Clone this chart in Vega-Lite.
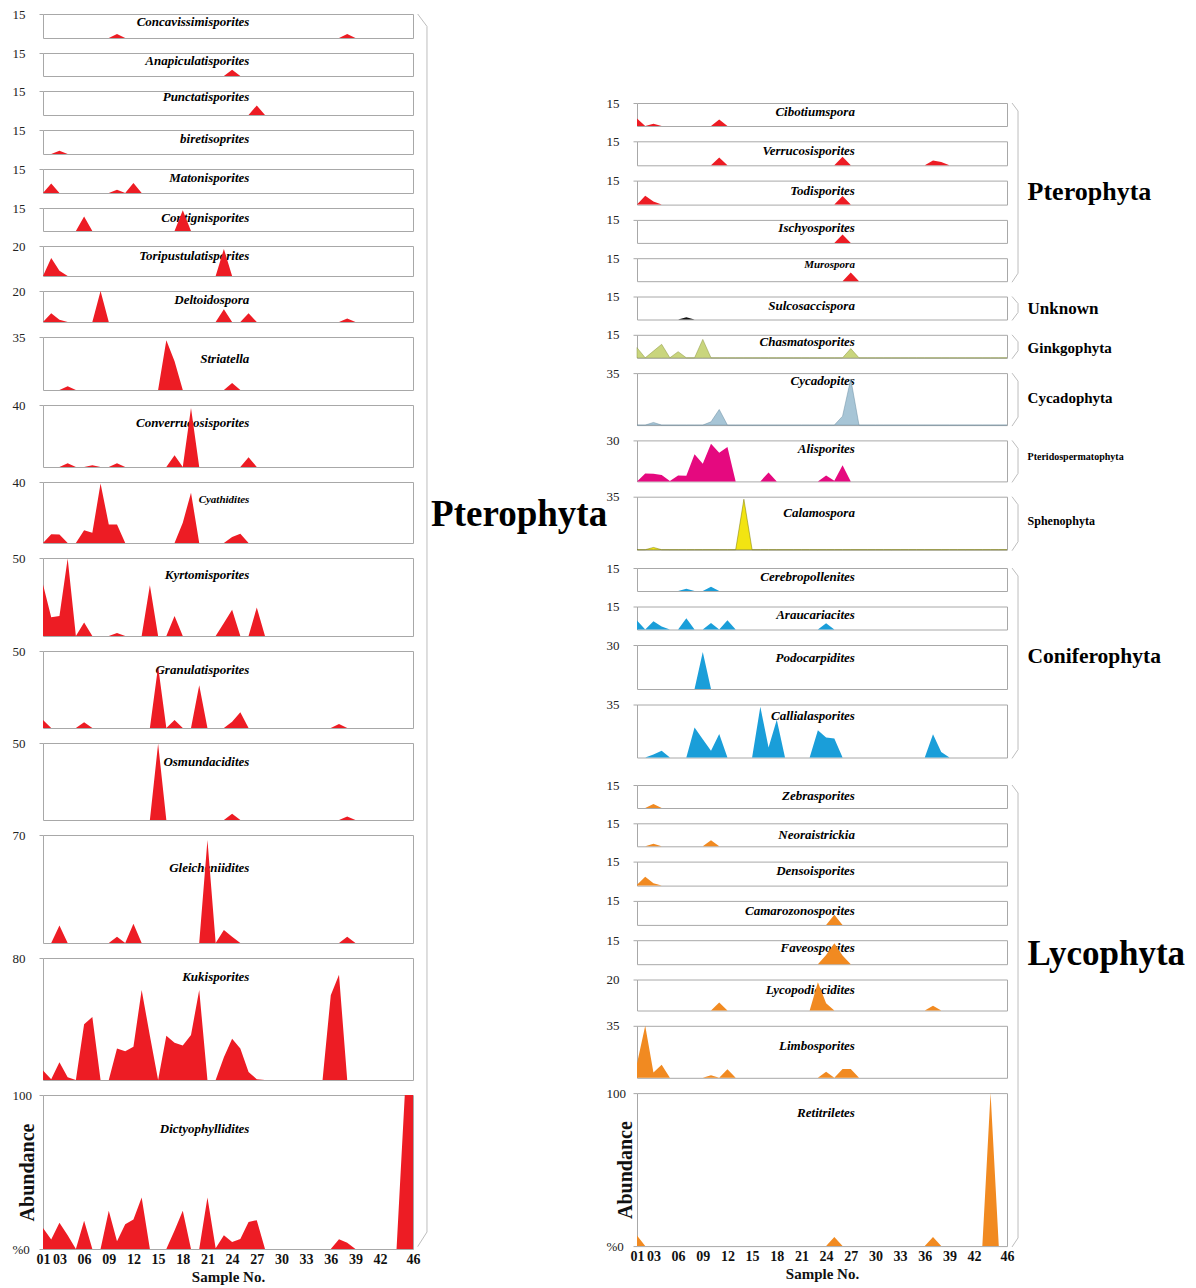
{
"$schema": "https://vega.github.io/schema/vega-lite/v6.json",
"background": "white",
"padding": {"left": 11, "top": 7, "right": 2, "bottom": 2},
"datasets": {"p": [
{"t":"Concavissimisporites","s":10,"v":2.5},{"t":"Concavissimisporites","s":38,"v":2.5},
{"t":"Anapiculatisporites","s":24,"v":4},
{"t":"Punctatisporites","s":27,"v":6},
{"t":"biretisoprites","s":3,"v":2},
{"t":"Matonisporites","s":2,"v":6},{"t":"Matonisporites","s":10,"v":2},{"t":"Matonisporites","s":12,"v":6.3},
{"t":"Contignisporites","s":6,"v":9.5},{"t":"Contignisporites","s":18,"v":13.5},
{"t":"Toripustulatisporites","s":2,"v":12},{"t":"Toripustulatisporites","s":3,"v":3.5},{"t":"Toripustulatisporites","s":23,"v":18},
{"t":"Deltoidospora","s":2,"v":5.7},{"t":"Deltoidospora","s":3,"v":1.5},{"t":"Deltoidospora","s":8,"v":20},{"t":"Deltoidospora","s":23,"v":8.3},{"t":"Deltoidospora","s":26,"v":5.7},{"t":"Deltoidospora","s":38,"v":2.2},
{"t":"Striatella","s":4,"v":2.4},{"t":"Striatella","s":16,"v":32.8},{"t":"Striatella","s":17,"v":19},{"t":"Striatella","s":24,"v":4.6},
{"t":"Converrucosisporites","s":4,"v":2.4},{"t":"Converrucosisporites","s":7,"v":1.2},{"t":"Converrucosisporites","s":10,"v":2.4},{"t":"Converrucosisporites","s":17,"v":7.6},{"t":"Converrucosisporites","s":19,"v":38},{"t":"Converrucosisporites","s":26,"v":6.3},
{"t":"Cyathidites","s":2,"v":5.8},{"t":"Cyathidites","s":3,"v":5.6},{"t":"Cyathidites","s":6,"v":8.4},{"t":"Cyathidites","s":7,"v":6.7},{"t":"Cyathidites","s":8,"v":39},{"t":"Cyathidites","s":9,"v":12.2},{"t":"Cyathidites","s":10,"v":12.2},{"t":"Cyathidites","s":18,"v":13.3},{"t":"Cyathidites","s":19,"v":33},{"t":"Cyathidites","s":24,"v":4},{"t":"Cyathidites","s":25,"v":6},
{"t":"Kyrtomisporites","s":1,"v":33},{"t":"Kyrtomisporites","s":2,"v":12},{"t":"Kyrtomisporites","s":3,"v":12.9},{"t":"Kyrtomisporites","s":4,"v":49.6},{"t":"Kyrtomisporites","s":6,"v":8.7},{"t":"Kyrtomisporites","s":10,"v":2},{"t":"Kyrtomisporites","s":14,"v":32.5},{"t":"Kyrtomisporites","s":17,"v":12.9},{"t":"Kyrtomisporites","s":23,"v":8.4},{"t":"Kyrtomisporites","s":24,"v":16.8},{"t":"Kyrtomisporites","s":27,"v":18.3},
{"t":"Granulatisporites","s":1,"v":5.2},{"t":"Granulatisporites","s":6,"v":3.7},{"t":"Granulatisporites","s":15,"v":40},{"t":"Granulatisporites","s":17,"v":5.2},{"t":"Granulatisporites","s":20,"v":27.7},{"t":"Granulatisporites","s":24,"v":4},{"t":"Granulatisporites","s":25,"v":10.3},{"t":"Granulatisporites","s":37,"v":2.6},
{"t":"Osmundacidites","s":15,"v":49.5},{"t":"Osmundacidites","s":24,"v":4},{"t":"Osmundacidites","s":38,"v":2.2},
{"t":"Gleicheniidites","s":3,"v":11.3},{"t":"Gleicheniidites","s":10,"v":4.1},{"t":"Gleicheniidites","s":12,"v":12.4},{"t":"Gleicheniidites","s":21,"v":66.7},{"t":"Gleicheniidites","s":23,"v":8.5},{"t":"Gleicheniidites","s":24,"v":4},{"t":"Gleicheniidites","s":38,"v":4.1},
{"t":"Kukisporites","s":1,"v":6.2},{"t":"Kukisporites","s":2,"v":0.5},{"t":"Kukisporites","s":3,"v":11.6},{"t":"Kukisporites","s":4,"v":1.8},{"t":"Kukisporites","s":6,"v":36.5},{"t":"Kukisporites","s":7,"v":41.3},{"t":"Kukisporites","s":10,"v":20.7},{"t":"Kukisporites","s":11,"v":18.9},{"t":"Kukisporites","s":12,"v":21.8},{"t":"Kukisporites","s":13,"v":59},{"t":"Kukisporites","s":14,"v":29},{"t":"Kukisporites","s":16,"v":29},{"t":"Kukisporites","s":17,"v":24.4},{"t":"Kukisporites","s":18,"v":22.6},{"t":"Kukisporites","s":19,"v":29.5},{"t":"Kukisporites","s":20,"v":59},{"t":"Kukisporites","s":23,"v":15},{"t":"Kukisporites","s":24,"v":27},{"t":"Kukisporites","s":25,"v":20.7},{"t":"Kukisporites","s":26,"v":5.3},{"t":"Kukisporites","s":27,"v":0.5},{"t":"Kukisporites","s":36,"v":55.6},{"t":"Kukisporites","s":37,"v":69},
{"t":"Dictyophyllidites","s":1,"v":13.7},{"t":"Dictyophyllidites","s":2,"v":6.1},{"t":"Dictyophyllidites","s":3,"v":17},{"t":"Dictyophyllidites","s":4,"v":8.9},{"t":"Dictyophyllidites","s":6,"v":18.3},{"t":"Dictyophyllidites","s":9,"v":24.8},{"t":"Dictyophyllidites","s":10,"v":5},{"t":"Dictyophyllidites","s":11,"v":16.1},{"t":"Dictyophyllidites","s":12,"v":19.2},{"t":"Dictyophyllidites","s":13,"v":33.5},{"t":"Dictyophyllidites","s":17,"v":12},{"t":"Dictyophyllidites","s":18,"v":24.8},{"t":"Dictyophyllidites","s":21,"v":33.5},{"t":"Dictyophyllidites","s":22,"v":0.5},{"t":"Dictyophyllidites","s":23,"v":9},{"t":"Dictyophyllidites","s":24,"v":4.6},{"t":"Dictyophyllidites","s":25,"v":6.5},{"t":"Dictyophyllidites","s":26,"v":17.6},{"t":"Dictyophyllidites","s":27,"v":18.7},{"t":"Dictyophyllidites","s":37,"v":6.3},{"t":"Dictyophyllidites","s":38,"v":4.1},{"t":"Dictyophyllidites","s":45,"v":100},{"t":"Dictyophyllidites","s":46,"v":100},
{"t":"Cibotiumspora","s":1,"v":4.9},{"t":"Cibotiumspora","s":3,"v":1.5},{"t":"Cibotiumspora","s":11,"v":4.3},
{"t":"Verrucosisporites","s":11,"v":4.9},{"t":"Verrucosisporites","s":26,"v":5.3},{"t":"Verrucosisporites","s":37,"v":3},{"t":"Verrucosisporites","s":38,"v":2},
{"t":"Todisporites","s":2,"v":5.5},{"t":"Todisporites","s":3,"v":2},{"t":"Todisporites","s":26,"v":5.3},
{"t":"Ischyosporites","s":26,"v":5.5},
{"t":"Murospora","s":27,"v":5.6},
{"t":"Sulcosaccispora","s":7,"v":1.5},
{"t":"Chasmatosporites","s":1,"v":6.6},{"t":"Chasmatosporites","s":3,"v":4.4},{"t":"Chasmatosporites","s":4,"v":8.8},{"t":"Chasmatosporites","s":6,"v":4},{"t":"Chasmatosporites","s":9,"v":12},{"t":"Chasmatosporites","s":27,"v":6},
{"t":"Cycadopites","s":3,"v":1.8},{"t":"Cycadopites","s":10,"v":2.2},{"t":"Cycadopites","s":11,"v":10.5},{"t":"Cycadopites","s":26,"v":6},{"t":"Cycadopites","s":27,"v":31},
{"t":"Alisporites","s":2,"v":5.8},{"t":"Alisporites","s":3,"v":5.6},{"t":"Alisporites","s":4,"v":4.6},{"t":"Alisporites","s":5,"v":0.3},{"t":"Alisporites","s":6,"v":4.4},{"t":"Alisporites","s":7,"v":4.1},{"t":"Alisporites","s":8,"v":19.9},{"t":"Alisporites","s":9,"v":13},{"t":"Alisporites","s":10,"v":27.6},{"t":"Alisporites","s":11,"v":21},{"t":"Alisporites","s":12,"v":25.2},{"t":"Alisporites","s":17,"v":6.5},{"t":"Alisporites","s":24,"v":4.4},{"t":"Alisporites","s":25,"v":0.5},{"t":"Alisporites","s":26,"v":11.9},
{"t":"Calamospora","s":3,"v":1.5},{"t":"Calamospora","s":14,"v":33.3},
{"t":"Cerebropollenites","s":7,"v":1.5},{"t":"Cerebropollenites","s":10,"v":2.8},
{"t":"Araucariacites","s":1,"v":5.8},{"t":"Araucariacites","s":3,"v":5.4},{"t":"Araucariacites","s":4,"v":2},{"t":"Araucariacites","s":7,"v":7.3},{"t":"Araucariacites","s":10,"v":4.3},{"t":"Araucariacites","s":12,"v":6},{"t":"Araucariacites","s":24,"v":4},
{"t":"Podocarpidites","s":9,"v":25.2},
{"t":"Callialasporites","s":3,"v":2},{"t":"Callialasporites","s":4,"v":4.4},{"t":"Callialasporites","s":8,"v":19.8},{"t":"Callialasporites","s":9,"v":12},{"t":"Callialasporites","s":10,"v":4.4},{"t":"Callialasporites","s":11,"v":15.6},{"t":"Callialasporites","s":16,"v":33.5},{"t":"Callialasporites","s":17,"v":6.6},{"t":"Callialasporites","s":18,"v":25},{"t":"Callialasporites","s":23,"v":18},{"t":"Callialasporites","s":24,"v":13.2},{"t":"Callialasporites","s":25,"v":12.5},{"t":"Callialasporites","s":37,"v":15.4},{"t":"Callialasporites","s":38,"v":3.7},
{"t":"Zebrasporites","s":3,"v":2.6},
{"t":"Neoraistrickia","s":3,"v":1.7},{"t":"Neoraistrickia","s":10,"v":4},
{"t":"Densoisporites","s":1,"v":0.5},{"t":"Densoisporites","s":2,"v":5.5},{"t":"Densoisporites","s":3,"v":1.5},
{"t":"Camarozonosporites","s":25,"v":6.3},
{"t":"Faveosporites","s":24,"v":5.7},{"t":"Faveosporites","s":25,"v":13.1},{"t":"Faveosporites","s":26,"v":5.5},
{"t":"Lycopodiacidites","s":11,"v":5.2},{"t":"Lycopodiacidites","s":23,"v":18.3},{"t":"Lycopodiacidites","s":24,"v":4.6},{"t":"Lycopodiacidites","s":37,"v":3},
{"t":"Limbosporites","s":1,"v":9.6},{"t":"Limbosporites","s":2,"v":35},{"t":"Limbosporites","s":3,"v":3.6},{"t":"Limbosporites","s":4,"v":8.7},{"t":"Limbosporites","s":10,"v":1.8},{"t":"Limbosporites","s":12,"v":5.8},{"t":"Limbosporites","s":24,"v":4},{"t":"Limbosporites","s":26,"v":6},{"t":"Limbosporites","s":27,"v":6},
{"t":"Retitriletes","s":1,"v":7},{"t":"Retitriletes","s":25,"v":6},{"t":"Retitriletes","s":37,"v":6},{"t":"Retitriletes","s":44,"v":100}
]},
"data": {"name": "p"},
"transform": [{"impute": "v", "key": "s", "keyvals": {"start": 1, "stop": 47}, "groupby": ["t"], "value": 0}],
"spacing": 594,
"bounds": "flush",
"hconcat": [
{"spacing": 15, "bounds": "flush", "vconcat": [
{"width":370,"height":24,"transform":[{"filter":"datum.t==='Concavissimisporites'"}],"layer":[
 {"mark":{"type":"area","color":"#ED1C24"},"encoding":{"x":{"field":"s","type":"quantitative","scale":{"domain":[1,46]},"axis":null},"y":{"field":"v","type":"quantitative","scale":{"domain":[0,15],"nice":false},"axis":{"values":[15],"title":null}}}},
 {"data":{"values":[{"n":"Concavissimisporites"}]},"mark":{"type":"text","style":"ttl","dy":7.5},"encoding":{"text":{"field":"n"},"x":{"datum":26.1,"type":"quantitative","scale":{"domain":[1,46]},"axis":null},"y":{"datum":15,"type":"quantitative","scale":{"domain":[0,15],"nice":false},"axis":{"values":[15],"title":null}}}},
 {"data":{"values":[{}]},"mark":{"type":"rule","color":"#bdbdbd","strokeWidth":1},"encoding":{"x":{"datum":46.57,"type":"quantitative","scale":{"domain":[1,46]},"axis":null},"x2":{"datum":47.7},"y":{"datum":15,"type":"quantitative","scale":{"domain":[0,15],"nice":false},"axis":{"values":[15],"title":null}},"y2":{"datum":7.25}}},
 {"data":{"values":[{}]},"mark":{"type":"rule","color":"#bdbdbd","strokeWidth":1},"encoding":{"x":{"datum":47.7,"type":"quantitative","scale":{"domain":[1,46]},"axis":null},"y":{"datum":7.25,"type":"quantitative","scale":{"domain":[0,15],"nice":false},"axis":{"values":[15],"title":null}},"y2":{"datum":-746.25}}},
 {"data":{"values":[{}]},"mark":{"type":"rule","color":"#bdbdbd","strokeWidth":1},"encoding":{"x":{"datum":47.7,"type":"quantitative","scale":{"domain":[1,46]},"axis":null},"x2":{"datum":46.57},"y":{"datum":-746.25,"type":"quantitative","scale":{"domain":[0,15],"nice":false},"axis":{"values":[15],"title":null}},"y2":{"datum":-755.4}}}]},
{"width":370,"height":23,"transform":[{"filter":"datum.t==='Anapiculatisporites'"}],"layer":[
 {"mark":{"type":"area","color":"#ED1C24"},"encoding":{"x":{"field":"s","type":"quantitative","scale":{"domain":[1,46]},"axis":null},"y":{"field":"v","type":"quantitative","scale":{"domain":[0,15],"nice":false},"axis":{"values":[15],"title":null}}}},
 {"data":{"values":[{"n":"Anapiculatisporites"}]},"mark":{"type":"text","style":"ttl","dy":8},"encoding":{"text":{"field":"n"},"x":{"datum":26.1,"type":"quantitative","scale":{"domain":[1,46]},"axis":null},"y":{"datum":15,"type":"quantitative","scale":{"domain":[0,15],"nice":false},"axis":{"values":[15],"title":null}}}}]},
{"width":370,"height":24,"transform":[{"filter":"datum.t==='Punctatisporites'"}],"layer":[
 {"mark":{"type":"area","color":"#ED1C24"},"encoding":{"x":{"field":"s","type":"quantitative","scale":{"domain":[1,46]},"axis":null},"y":{"field":"v","type":"quantitative","scale":{"domain":[0,15],"nice":false},"axis":{"values":[15],"title":null}}}},
 {"data":{"values":[{"n":"Punctatisporites"}]},"mark":{"type":"text","style":"ttl","dy":6},"encoding":{"text":{"field":"n"},"x":{"datum":26.1,"type":"quantitative","scale":{"domain":[1,46]},"axis":null},"y":{"datum":15,"type":"quantitative","scale":{"domain":[0,15],"nice":false},"axis":{"values":[15],"title":null}}}}]},
{"width":370,"height":24,"transform":[{"filter":"datum.t==='biretisoprites'"}],"layer":[
 {"mark":{"type":"area","color":"#ED1C24"},"encoding":{"x":{"field":"s","type":"quantitative","scale":{"domain":[1,46]},"axis":null},"y":{"field":"v","type":"quantitative","scale":{"domain":[0,15],"nice":false},"axis":{"values":[15],"title":null}}}},
 {"data":{"values":[{"n":"biretisoprites"}]},"mark":{"type":"text","style":"ttl","dy":8.5},"encoding":{"text":{"field":"n"},"x":{"datum":26.1,"type":"quantitative","scale":{"domain":[1,46]},"axis":null},"y":{"datum":15,"type":"quantitative","scale":{"domain":[0,15],"nice":false},"axis":{"values":[15],"title":null}}}}]},
{"width":370,"height":24,"transform":[{"filter":"datum.t==='Matonisporites'"}],"layer":[
 {"mark":{"type":"area","color":"#ED1C24"},"encoding":{"x":{"field":"s","type":"quantitative","scale":{"domain":[1,46]},"axis":null},"y":{"field":"v","type":"quantitative","scale":{"domain":[0,15],"nice":false},"axis":{"values":[15],"title":null}}}},
 {"data":{"values":[{"n":"Matonisporites"}]},"mark":{"type":"text","style":"ttl","dy":9},"encoding":{"text":{"field":"n"},"x":{"datum":26.1,"type":"quantitative","scale":{"domain":[1,46]},"axis":null},"y":{"datum":15,"type":"quantitative","scale":{"domain":[0,15],"nice":false},"axis":{"values":[15],"title":null}}}}]},
{"width":370,"height":23,"transform":[{"filter":"datum.t==='Contignisporites'"}],"layer":[
 {"data":{"values":[{"n":"Contignisporites"}]},"mark":{"type":"text","style":"ttl","dy":9.5},"encoding":{"text":{"field":"n"},"x":{"datum":26.1,"type":"quantitative","scale":{"domain":[1,46]},"axis":null},"y":{"datum":15,"type":"quantitative","scale":{"domain":[0,15],"nice":false},"axis":{"values":[15],"title":null}}}},
 {"mark":{"type":"area","color":"#ED1C24"},"encoding":{"x":{"field":"s","type":"quantitative","scale":{"domain":[1,46]},"axis":null},"y":{"field":"v","type":"quantitative","scale":{"domain":[0,15],"nice":false},"axis":{"values":[15],"title":null}}}}]},
{"width":370,"height":30,"transform":[{"filter":"datum.t==='Toripustulatisporites'"}],"layer":[
 {"data":{"values":[{"n":"Toripustulatisporites"}]},"mark":{"type":"text","style":"ttl","dy":9.5},"encoding":{"text":{"field":"n"},"x":{"datum":26.1,"type":"quantitative","scale":{"domain":[1,46]},"axis":null},"y":{"datum":20,"type":"quantitative","scale":{"domain":[0,20],"nice":false},"axis":{"values":[20],"title":null}}}},
 {"mark":{"type":"area","color":"#ED1C24"},"encoding":{"x":{"field":"s","type":"quantitative","scale":{"domain":[1,46]},"axis":null},"y":{"field":"v","type":"quantitative","scale":{"domain":[0,20],"nice":false},"axis":{"values":[20],"title":null}}}}]},
{"width":370,"height":31,"transform":[{"filter":"datum.t==='Deltoidospora'"}],"layer":[
 {"mark":{"type":"area","color":"#ED1C24"},"encoding":{"x":{"field":"s","type":"quantitative","scale":{"domain":[1,46]},"axis":null},"y":{"field":"v","type":"quantitative","scale":{"domain":[0,20],"nice":false},"axis":{"values":[20],"title":null}}}},
 {"data":{"values":[{"n":"Deltoidospora"}]},"mark":{"type":"text","style":"ttl","dy":9.3},"encoding":{"text":{"field":"n"},"x":{"datum":26.1,"type":"quantitative","scale":{"domain":[1,46]},"axis":null},"y":{"datum":20,"type":"quantitative","scale":{"domain":[0,20],"nice":false},"axis":{"values":[20],"title":null}}}}]},
{"width":370,"height":53,"transform":[{"filter":"datum.t==='Striatella'"}],"layer":[
 {"mark":{"type":"area","color":"#ED1C24"},"encoding":{"x":{"field":"s","type":"quantitative","scale":{"domain":[1,46]},"axis":null},"y":{"field":"v","type":"quantitative","scale":{"domain":[0,35],"nice":false},"axis":{"values":[35],"title":null}}}},
 {"data":{"values":[{"n":"Striatella"}]},"mark":{"type":"text","style":"ttl","dy":21.5},"encoding":{"text":{"field":"n"},"x":{"datum":26.1,"type":"quantitative","scale":{"domain":[1,46]},"axis":null},"y":{"datum":35,"type":"quantitative","scale":{"domain":[0,35],"nice":false},"axis":{"values":[35],"title":null}}}}]},
{"width":370,"height":62,"transform":[{"filter":"datum.t==='Converrucosisporites'"}],"layer":[
 {"data":{"values":[{"n":"Converrucosisporites"}]},"mark":{"type":"text","style":"ttl","dy":18.3},"encoding":{"text":{"field":"n"},"x":{"datum":26.1,"type":"quantitative","scale":{"domain":[1,46]},"axis":null},"y":{"datum":40,"type":"quantitative","scale":{"domain":[0,40],"nice":false},"axis":{"values":[40],"title":null}}}},
 {"mark":{"type":"area","color":"#ED1C24"},"encoding":{"x":{"field":"s","type":"quantitative","scale":{"domain":[1,46]},"axis":null},"y":{"field":"v","type":"quantitative","scale":{"domain":[0,40],"nice":false},"axis":{"values":[40],"title":null}}}}]},
{"width":370,"height":61,"transform":[{"filter":"datum.t==='Cyathidites'"}],"layer":[
 {"mark":{"type":"area","color":"#ED1C24"},"encoding":{"x":{"field":"s","type":"quantitative","scale":{"domain":[1,46]},"axis":null},"y":{"field":"v","type":"quantitative","scale":{"domain":[0,40],"nice":false},"axis":{"values":[40],"title":null}}}},
 {"data":{"values":[{"n":"Cyathidites"}]},"mark":{"type":"text","style":"ttl","dy":18.3,"fontSize":11},"encoding":{"text":{"field":"n"},"x":{"datum":26.1,"type":"quantitative","scale":{"domain":[1,46]},"axis":null},"y":{"datum":40,"type":"quantitative","scale":{"domain":[0,40],"nice":false},"axis":{"values":[40],"title":null}}}},
 {"data":{"values":[{"g":"Pterophyta"}]},"mark":{"type":"text","style":"grp","fontSize":37,"dy":33},"encoding":{"text":{"field":"g"},"x":{"datum":48.2,"type":"quantitative","scale":{"domain":[1,46]},"axis":null},"y":{"datum":40,"type":"quantitative","scale":{"domain":[0,40],"nice":false},"axis":{"values":[40],"title":null}}}}]},
{"width":370,"height":78,"transform":[{"filter":"datum.t==='Kyrtomisporites'"}],"layer":[
 {"mark":{"type":"area","color":"#ED1C24"},"encoding":{"x":{"field":"s","type":"quantitative","scale":{"domain":[1,46]},"axis":null},"y":{"field":"v","type":"quantitative","scale":{"domain":[0,50],"nice":false},"axis":{"values":[50],"title":null}}}},
 {"data":{"values":[{"n":"Kyrtomisporites"}]},"mark":{"type":"text","style":"ttl","dy":17.3},"encoding":{"text":{"field":"n"},"x":{"datum":26.1,"type":"quantitative","scale":{"domain":[1,46]},"axis":null},"y":{"datum":50,"type":"quantitative","scale":{"domain":[0,50],"nice":false},"axis":{"values":[50],"title":null}}}}]},
{"width":370,"height":77,"transform":[{"filter":"datum.t==='Granulatisporites'"}],"layer":[
 {"data":{"values":[{"n":"Granulatisporites"}]},"mark":{"type":"text","style":"ttl","dy":19},"encoding":{"text":{"field":"n"},"x":{"datum":26.1,"type":"quantitative","scale":{"domain":[1,46]},"axis":null},"y":{"datum":50,"type":"quantitative","scale":{"domain":[0,50],"nice":false},"axis":{"values":[50],"title":null}}}},
 {"mark":{"type":"area","color":"#ED1C24"},"encoding":{"x":{"field":"s","type":"quantitative","scale":{"domain":[1,46]},"axis":null},"y":{"field":"v","type":"quantitative","scale":{"domain":[0,50],"nice":false},"axis":{"values":[50],"title":null}}}}]},
{"width":370,"height":77,"transform":[{"filter":"datum.t==='Osmundacidites'"}],"layer":[
 {"data":{"values":[{"n":"Osmundacidites"}]},"mark":{"type":"text","style":"ttl","dy":19.3},"encoding":{"text":{"field":"n"},"x":{"datum":26.1,"type":"quantitative","scale":{"domain":[1,46]},"axis":null},"y":{"datum":50,"type":"quantitative","scale":{"domain":[0,50],"nice":false},"axis":{"values":[50],"title":null}}}},
 {"mark":{"type":"area","color":"#ED1C24"},"encoding":{"x":{"field":"s","type":"quantitative","scale":{"domain":[1,46]},"axis":null},"y":{"field":"v","type":"quantitative","scale":{"domain":[0,50],"nice":false},"axis":{"values":[50],"title":null}}}}]},
{"width":370,"height":108,"transform":[{"filter":"datum.t==='Gleicheniidites'"}],"layer":[
 {"data":{"values":[{"n":"Gleicheniidites"}]},"mark":{"type":"text","style":"ttl","dy":33},"encoding":{"text":{"field":"n"},"x":{"datum":26.1,"type":"quantitative","scale":{"domain":[1,46]},"axis":null},"y":{"datum":70,"type":"quantitative","scale":{"domain":[0,70],"nice":false},"axis":{"values":[70],"title":null}}}},
 {"mark":{"type":"area","color":"#ED1C24"},"encoding":{"x":{"field":"s","type":"quantitative","scale":{"domain":[1,46]},"axis":null},"y":{"field":"v","type":"quantitative","scale":{"domain":[0,70],"nice":false},"axis":{"values":[70],"title":null}}}}]},
{"width":370,"height":122,"transform":[{"filter":"datum.t==='Kukisporites'"}],"layer":[
 {"mark":{"type":"area","color":"#ED1C24"},"encoding":{"x":{"field":"s","type":"quantitative","scale":{"domain":[1,46]},"axis":null},"y":{"field":"v","type":"quantitative","scale":{"domain":[0,80],"nice":false},"axis":{"values":[80],"title":null}}}},
 {"data":{"values":[{"n":"Kukisporites"}]},"mark":{"type":"text","style":"ttl","dy":19.3},"encoding":{"text":{"field":"n"},"x":{"datum":26.1,"type":"quantitative","scale":{"domain":[1,46]},"axis":null},"y":{"datum":80,"type":"quantitative","scale":{"domain":[0,80],"nice":false},"axis":{"values":[80],"title":null}}}}]},
{"width":370,"height":154,"transform":[{"filter":"datum.t==='Dictyophyllidites'"}],"layer":[
 {"mark":{"type":"area","color":"#ED1C24"},"encoding":{"x":{"field":"s","type":"quantitative","scale":{"domain":[1,46]},"axis":{"values":[1,3,6,9,12,15,18,21,24,27,30,33,36,39,42,46],"labelExpr":"datum.value < 10 ? '0' + datum.value : '' + datum.value","labelFontWeight":"bold","labelFontSize":14,"labelPadding":3,"ticks":false,"labelFlush":false,"labelOverlap":false,"labelAlign":"center","labelColor":"#111","title":"Sample No.","titleFontSize":15,"titleFontWeight":"bold","titlePadding":3}},"y":{"field":"v","type":"quantitative","scale":{"domain":[0,100],"nice":false},"axis":{"values":[0,100],"labelExpr":"datum.value === 0 ? '%0' : datum.label","title":"Abundance","titleFontSize":20,"titleFontWeight":"bold","titleX":-16,"titleY":77,"titleAngle":-90,"titleBaseline":"middle","titleAlign":"center"}}}},
 {"data":{"values":[{"n":"Dictyophyllidites"}]},"mark":{"type":"text","style":"ttl","dy":34.3},"encoding":{"text":{"field":"n"},"x":{"datum":26.1,"type":"quantitative","scale":{"domain":[1,46]},"axis":{"values":[1,3,6,9,12,15,18,21,24,27,30,33,36,39,42,46],"labelExpr":"datum.value < 10 ? '0' + datum.value : '' + datum.value","labelFontWeight":"bold","labelFontSize":14,"labelPadding":3,"ticks":false,"labelFlush":false,"labelOverlap":false,"labelAlign":"center","labelColor":"#111","title":"Sample No.","titleFontSize":15,"titleFontWeight":"bold","titlePadding":3}},"y":{"datum":100,"type":"quantitative","scale":{"domain":[0,100],"nice":false},"axis":{"values":[0,100],"labelExpr":"datum.value === 0 ? '%0' : datum.label","title":"Abundance","titleFontSize":20,"titleFontWeight":"bold","titleX":-16,"titleY":77,"titleAngle":-90,"titleBaseline":"middle","titleAlign":"center"}}}}]}
]},
{"spacing": 0, "bounds": "flush", "vconcat": [
{"width":370,"height":89,"view":{"stroke":null},"data":{"values":[{}]},"mark":"text","encoding":{"text":{"value":""}}},
{"spacing": 15.3, "bounds": "flush", "vconcat": [
{"width":370,"height":23,"transform":[{"filter":"datum.t==='Cibotiumspora'"}],"layer":[
 {"mark":{"type":"area","color":"#ED1C24"},"encoding":{"x":{"field":"s","type":"quantitative","scale":{"domain":[1,46]},"axis":null},"y":{"field":"v","type":"quantitative","scale":{"domain":[0,15],"nice":false},"axis":{"values":[15],"title":null}}}},
 {"data":{"values":[{"n":"Cibotiumspora"}]},"mark":{"type":"text","style":"ttl","dy":9},"encoding":{"text":{"field":"n"},"x":{"datum":27.5,"type":"quantitative","scale":{"domain":[1,46]},"axis":null},"y":{"datum":15,"type":"quantitative","scale":{"domain":[0,15],"nice":false},"axis":{"values":[15],"title":null}}}},
 {"data":{"values":[{}]},"mark":{"type":"rule","color":"#bdbdbd","strokeWidth":1},"encoding":{"x":{"datum":46.61,"type":"quantitative","scale":{"domain":[1,46]},"axis":null},"x2":{"datum":47.34},"y":{"datum":15,"type":"quantitative","scale":{"domain":[0,15],"nice":false},"axis":{"values":[15],"title":null}},"y2":{"datum":9.78}}},
 {"data":{"values":[{}]},"mark":{"type":"rule","color":"#bdbdbd","strokeWidth":1},"encoding":{"x":{"datum":47.34,"type":"quantitative","scale":{"domain":[1,46]},"axis":null},"y":{"datum":9.78,"type":"quantitative","scale":{"domain":[0,15],"nice":false},"axis":{"values":[15],"title":null}},"y2":{"datum":-96}}},
 {"data":{"values":[{}]},"mark":{"type":"rule","color":"#bdbdbd","strokeWidth":1},"encoding":{"x":{"datum":47.34,"type":"quantitative","scale":{"domain":[1,46]},"axis":null},"x2":{"datum":46.61},"y":{"datum":-96,"type":"quantitative","scale":{"domain":[0,15],"nice":false},"axis":{"values":[15],"title":null}},"y2":{"datum":-101.9}}}]},
{"width":370,"height":24,"transform":[{"filter":"datum.t==='Verrucosisporites'"}],"layer":[
 {"mark":{"type":"area","color":"#ED1C24"},"encoding":{"x":{"field":"s","type":"quantitative","scale":{"domain":[1,46]},"axis":null},"y":{"field":"v","type":"quantitative","scale":{"domain":[0,15],"nice":false},"axis":{"values":[15],"title":null}}}},
 {"data":{"values":[{"n":"Verrucosisporites"}]},"mark":{"type":"text","style":"ttl","dy":9.3},"encoding":{"text":{"field":"n"},"x":{"datum":27.5,"type":"quantitative","scale":{"domain":[1,46]},"axis":null},"y":{"datum":15,"type":"quantitative","scale":{"domain":[0,15],"nice":false},"axis":{"values":[15],"title":null}}}}]},
{"width":370,"height":24,"transform":[{"filter":"datum.t==='Todisporites'"}],"layer":[
 {"mark":{"type":"area","color":"#ED1C24"},"encoding":{"x":{"field":"s","type":"quantitative","scale":{"domain":[1,46]},"axis":null},"y":{"field":"v","type":"quantitative","scale":{"domain":[0,15],"nice":false},"axis":{"values":[15],"title":null}}}},
 {"data":{"values":[{"n":"Todisporites"}]},"mark":{"type":"text","style":"ttl","dy":10},"encoding":{"text":{"field":"n"},"x":{"datum":27.5,"type":"quantitative","scale":{"domain":[1,46]},"axis":null},"y":{"datum":15,"type":"quantitative","scale":{"domain":[0,15],"nice":false},"axis":{"values":[15],"title":null}}}},
 {"data":{"values":[{"g":"Pterophyta"}]},"mark":{"type":"text","style":"grp","fontSize":26,"dy":11.5},"encoding":{"text":{"field":"g"},"x":{"datum":48.5,"type":"quantitative","scale":{"domain":[1,46]},"axis":null},"y":{"datum":15,"type":"quantitative","scale":{"domain":[0,15],"nice":false},"axis":{"values":[15],"title":null}}}}]},
{"width":370,"height":23,"transform":[{"filter":"datum.t==='Ischyosporites'"}],"layer":[
 {"mark":{"type":"area","color":"#ED1C24"},"encoding":{"x":{"field":"s","type":"quantitative","scale":{"domain":[1,46]},"axis":null},"y":{"field":"v","type":"quantitative","scale":{"domain":[0,15],"nice":false},"axis":{"values":[15],"title":null}}}},
 {"data":{"values":[{"n":"Ischyosporites"}]},"mark":{"type":"text","style":"ttl","dy":8.3},"encoding":{"text":{"field":"n"},"x":{"datum":27.5,"type":"quantitative","scale":{"domain":[1,46]},"axis":null},"y":{"datum":15,"type":"quantitative","scale":{"domain":[0,15],"nice":false},"axis":{"values":[15],"title":null}}}}]},
{"width":370,"height":23,"transform":[{"filter":"datum.t==='Murospora'"}],"layer":[
 {"mark":{"type":"area","color":"#ED1C24"},"encoding":{"x":{"field":"s","type":"quantitative","scale":{"domain":[1,46]},"axis":null},"y":{"field":"v","type":"quantitative","scale":{"domain":[0,15],"nice":false},"axis":{"values":[15],"title":null}}}},
 {"data":{"values":[{"n":"Murospora"}]},"mark":{"type":"text","style":"ttl","dy":6.7,"fontSize":11},"encoding":{"text":{"field":"n"},"x":{"datum":27.5,"type":"quantitative","scale":{"domain":[1,46]},"axis":null},"y":{"datum":15,"type":"quantitative","scale":{"domain":[0,15],"nice":false},"axis":{"values":[15],"title":null}}}}]},
{"width":370,"height":23,"transform":[{"filter":"datum.t==='Sulcosaccispora'"}],"layer":[
 {"mark":{"type":"area","color":"#111111"},"encoding":{"x":{"field":"s","type":"quantitative","scale":{"domain":[1,46]},"axis":null},"y":{"field":"v","type":"quantitative","scale":{"domain":[0,15],"nice":false},"axis":{"values":[15],"title":null}}}},
 {"data":{"values":[{"n":"Sulcosaccispora"}]},"mark":{"type":"text","style":"ttl","dy":9},"encoding":{"text":{"field":"n"},"x":{"datum":27.5,"type":"quantitative","scale":{"domain":[1,46]},"axis":null},"y":{"datum":15,"type":"quantitative","scale":{"domain":[0,15],"nice":false},"axis":{"values":[15],"title":null}}}},
 {"data":{"values":[{"g":"Unknown"}]},"mark":{"type":"text","style":"grp","fontSize":17,"dy":12},"encoding":{"text":{"field":"g"},"x":{"datum":48.5,"type":"quantitative","scale":{"domain":[1,46]},"axis":null},"y":{"datum":15,"type":"quantitative","scale":{"domain":[0,15],"nice":false},"axis":{"values":[15],"title":null}}}},
 {"data":{"values":[{}]},"mark":{"type":"rule","color":"#bdbdbd","strokeWidth":1},"encoding":{"x":{"datum":46.61,"type":"quantitative","scale":{"domain":[1,46]},"axis":null},"x2":{"datum":47.34},"y":{"datum":15,"type":"quantitative","scale":{"domain":[0,15],"nice":false},"axis":{"values":[15],"title":null}},"y2":{"datum":10.43}}},
 {"data":{"values":[{}]},"mark":{"type":"rule","color":"#bdbdbd","strokeWidth":1},"encoding":{"x":{"datum":47.34,"type":"quantitative","scale":{"domain":[1,46]},"axis":null},"y":{"datum":10.43,"type":"quantitative","scale":{"domain":[0,15],"nice":false},"axis":{"values":[15],"title":null}},"y2":{"datum":4.57}}},
 {"data":{"values":[{}]},"mark":{"type":"rule","color":"#bdbdbd","strokeWidth":1},"encoding":{"x":{"datum":47.34,"type":"quantitative","scale":{"domain":[1,46]},"axis":null},"x2":{"datum":46.61},"y":{"datum":4.57,"type":"quantitative","scale":{"domain":[0,15],"nice":false},"axis":{"values":[15],"title":null}},"y2":{"datum":-0.65}}}]},
{"width":370,"height":23,"transform":[{"filter":"datum.t==='Chasmatosporites'"}],"layer":[
 {"mark":{"type":"area","color":"#C9D57D","stroke":"#8a9440","strokeWidth":0.5},"encoding":{"x":{"field":"s","type":"quantitative","scale":{"domain":[1,46]},"axis":null},"y":{"field":"v","type":"quantitative","scale":{"domain":[0,15],"nice":false},"axis":{"values":[15],"title":null}}}},
 {"data":{"values":[{"n":"Chasmatosporites"}]},"mark":{"type":"text","style":"ttl","dy":7},"encoding":{"text":{"field":"n"},"x":{"datum":27.5,"type":"quantitative","scale":{"domain":[1,46]},"axis":null},"y":{"datum":15,"type":"quantitative","scale":{"domain":[0,15],"nice":false},"axis":{"values":[15],"title":null}}}},
 {"data":{"values":[{"g":"Ginkgophyta"}]},"mark":{"type":"text","style":"grp","fontSize":15,"dy":13.3},"encoding":{"text":{"field":"g"},"x":{"datum":48.5,"type":"quantitative","scale":{"domain":[1,46]},"axis":null},"y":{"datum":15,"type":"quantitative","scale":{"domain":[0,15],"nice":false},"axis":{"values":[15],"title":null}}}},
 {"data":{"values":[{}]},"mark":{"type":"rule","color":"#bdbdbd","strokeWidth":1},"encoding":{"x":{"datum":46.61,"type":"quantitative","scale":{"domain":[1,46]},"axis":null},"x2":{"datum":47.34},"y":{"datum":15,"type":"quantitative","scale":{"domain":[0,15],"nice":false},"axis":{"values":[15],"title":null}},"y2":{"datum":10.43}}},
 {"data":{"values":[{}]},"mark":{"type":"rule","color":"#bdbdbd","strokeWidth":1},"encoding":{"x":{"datum":47.34,"type":"quantitative","scale":{"domain":[1,46]},"axis":null},"y":{"datum":10.43,"type":"quantitative","scale":{"domain":[0,15],"nice":false},"axis":{"values":[15],"title":null}},"y2":{"datum":4.57}}},
 {"data":{"values":[{}]},"mark":{"type":"rule","color":"#bdbdbd","strokeWidth":1},"encoding":{"x":{"datum":47.34,"type":"quantitative","scale":{"domain":[1,46]},"axis":null},"x2":{"datum":46.61},"y":{"datum":4.57,"type":"quantitative","scale":{"domain":[0,15],"nice":false},"axis":{"values":[15],"title":null}},"y2":{"datum":-0.65}}}]},
{"width":370,"height":52,"transform":[{"filter":"datum.t==='Cycadopites'"}],"layer":[
 {"data":{"values":[{"n":"Cycadopites"}]},"mark":{"type":"text","style":"ttl","dy":8},"encoding":{"text":{"field":"n"},"x":{"datum":27.5,"type":"quantitative","scale":{"domain":[1,46]},"axis":null},"y":{"datum":35,"type":"quantitative","scale":{"domain":[0,35],"nice":false},"axis":{"values":[35],"title":null}}}},
 {"mark":{"type":"area","color":"#A7C5D6","stroke":"#6d8fa3","strokeWidth":0.5},"encoding":{"x":{"field":"s","type":"quantitative","scale":{"domain":[1,46]},"axis":null},"y":{"field":"v","type":"quantitative","scale":{"domain":[0,35],"nice":false},"axis":{"values":[35],"title":null}}}},
 {"data":{"values":[{"g":"Cycadophyta"}]},"mark":{"type":"text","style":"grp","fontSize":15,"dy":25.3},"encoding":{"text":{"field":"g"},"x":{"datum":48.5,"type":"quantitative","scale":{"domain":[1,46]},"axis":null},"y":{"datum":35,"type":"quantitative","scale":{"domain":[0,35],"nice":false},"axis":{"values":[35],"title":null}}}},
 {"data":{"values":[{}]},"mark":{"type":"rule","color":"#bdbdbd","strokeWidth":1},"encoding":{"x":{"datum":46.61,"type":"quantitative","scale":{"domain":[1,46]},"axis":null},"x2":{"datum":47.34},"y":{"datum":35,"type":"quantitative","scale":{"domain":[0,35],"nice":false},"axis":{"values":[35],"title":null}},"y2":{"datum":29.6}}},
 {"data":{"values":[{}]},"mark":{"type":"rule","color":"#bdbdbd","strokeWidth":1},"encoding":{"x":{"datum":47.34,"type":"quantitative","scale":{"domain":[1,46]},"axis":null},"y":{"datum":29.6,"type":"quantitative","scale":{"domain":[0,35],"nice":false},"axis":{"values":[35],"title":null}},"y2":{"datum":5.4}}},
 {"data":{"values":[{}]},"mark":{"type":"rule","color":"#bdbdbd","strokeWidth":1},"encoding":{"x":{"datum":47.34,"type":"quantitative","scale":{"domain":[1,46]},"axis":null},"x2":{"datum":46.61},"y":{"datum":5.4,"type":"quantitative","scale":{"domain":[0,35],"nice":false},"axis":{"values":[35],"title":null}},"y2":{"datum":-0.67}}}]},
{"width":370,"height":41,"transform":[{"filter":"datum.t==='Alisporites'"}],"layer":[
 {"mark":{"type":"area","color":"#E5097F"},"encoding":{"x":{"field":"s","type":"quantitative","scale":{"domain":[1,46]},"axis":null},"y":{"field":"v","type":"quantitative","scale":{"domain":[0,30],"nice":false},"axis":{"values":[30],"title":null}}}},
 {"data":{"values":[{"n":"Alisporites"}]},"mark":{"type":"text","style":"ttl","dy":9},"encoding":{"text":{"field":"n"},"x":{"datum":27.5,"type":"quantitative","scale":{"domain":[1,46]},"axis":null},"y":{"datum":30,"type":"quantitative","scale":{"domain":[0,30],"nice":false},"axis":{"values":[30],"title":null}}}},
 {"data":{"values":[{"g":"Pteridospermatophyta"}]},"mark":{"type":"text","style":"grp","fontSize":10,"dy":16.7},"encoding":{"text":{"field":"g"},"x":{"datum":48.5,"type":"quantitative","scale":{"domain":[1,46]},"axis":null},"y":{"datum":30,"type":"quantitative","scale":{"domain":[0,30],"nice":false},"axis":{"values":[30],"title":null}}}},
 {"data":{"values":[{}]},"mark":{"type":"rule","color":"#bdbdbd","strokeWidth":1},"encoding":{"x":{"datum":46.61,"type":"quantitative","scale":{"domain":[1,46]},"axis":null},"x2":{"datum":47.34},"y":{"datum":30,"type":"quantitative","scale":{"domain":[0,30],"nice":false},"axis":{"values":[30],"title":null}},"y2":{"datum":24.15}}},
 {"data":{"values":[{}]},"mark":{"type":"rule","color":"#bdbdbd","strokeWidth":1},"encoding":{"x":{"datum":47.34,"type":"quantitative","scale":{"domain":[1,46]},"axis":null},"y":{"datum":24.15,"type":"quantitative","scale":{"domain":[0,30],"nice":false},"axis":{"values":[30],"title":null}},"y2":{"datum":5.85}}},
 {"data":{"values":[{}]},"mark":{"type":"rule","color":"#bdbdbd","strokeWidth":1},"encoding":{"x":{"datum":47.34,"type":"quantitative","scale":{"domain":[1,46]},"axis":null},"x2":{"datum":46.61},"y":{"datum":5.85,"type":"quantitative","scale":{"domain":[0,30],"nice":false},"axis":{"values":[30],"title":null}},"y2":{"datum":-0.73}}}]},
{"width":370,"height":53,"transform":[{"filter":"datum.t==='Calamospora'"}],"layer":[
 {"mark":{"type":"area","color":"#F2E412","stroke":"#777700","strokeWidth":0.5},"encoding":{"x":{"field":"s","type":"quantitative","scale":{"domain":[1,46]},"axis":null},"y":{"field":"v","type":"quantitative","scale":{"domain":[0,35],"nice":false},"axis":{"values":[35],"title":null}}}},
 {"data":{"values":[{"n":"Calamospora"}]},"mark":{"type":"text","style":"ttl","dy":16.7},"encoding":{"text":{"field":"n"},"x":{"datum":27.5,"type":"quantitative","scale":{"domain":[1,46]},"axis":null},"y":{"datum":35,"type":"quantitative","scale":{"domain":[0,35],"nice":false},"axis":{"values":[35],"title":null}}}},
 {"data":{"values":[{"g":"Sphenophyta"}]},"mark":{"type":"text","style":"grp","fontSize":12,"dy":24.3},"encoding":{"text":{"field":"g"},"x":{"datum":48.5,"type":"quantitative","scale":{"domain":[1,46]},"axis":null},"y":{"datum":35,"type":"quantitative","scale":{"domain":[0,35],"nice":false},"axis":{"values":[35],"title":null}}}},
 {"data":{"values":[{}]},"mark":{"type":"rule","color":"#bdbdbd","strokeWidth":1},"encoding":{"x":{"datum":46.61,"type":"quantitative","scale":{"domain":[1,46]},"axis":null},"x2":{"datum":47.34},"y":{"datum":35,"type":"quantitative","scale":{"domain":[0,35],"nice":false},"axis":{"values":[35],"title":null}},"y2":{"datum":29.7}}},
 {"data":{"values":[{}]},"mark":{"type":"rule","color":"#bdbdbd","strokeWidth":1},"encoding":{"x":{"datum":47.34,"type":"quantitative","scale":{"domain":[1,46]},"axis":null},"y":{"datum":29.7,"type":"quantitative","scale":{"domain":[0,35],"nice":false},"axis":{"values":[35],"title":null}},"y2":{"datum":5.28}}},
 {"data":{"values":[{}]},"mark":{"type":"rule","color":"#bdbdbd","strokeWidth":1},"encoding":{"x":{"datum":47.34,"type":"quantitative","scale":{"domain":[1,46]},"axis":null},"x2":{"datum":46.61},"y":{"datum":5.28,"type":"quantitative","scale":{"domain":[0,35],"nice":false},"axis":{"values":[35],"title":null}},"y2":{"datum":-0.66}}}]}
]},
{"width":370,"height":464.7,"view":{"stroke":null},"data":{"values":[{}]},"mark":"text","encoding":{"text":{"value":""}}},
{"spacing": 15.5, "bounds": "flush", "vconcat": [
{"width":370,"height":23,"transform":[{"filter":"datum.t==='Cerebropollenites'"}],"layer":[
 {"mark":{"type":"area","color":"#1A9ED9"},"encoding":{"x":{"field":"s","type":"quantitative","scale":{"domain":[1,46]},"axis":null},"y":{"field":"v","type":"quantitative","scale":{"domain":[0,15],"nice":false},"axis":{"values":[15],"title":null}}}},
 {"data":{"values":[{"n":"Cerebropollenites"}]},"mark":{"type":"text","style":"ttl","dy":8.7},"encoding":{"text":{"field":"n"},"x":{"datum":27.5,"type":"quantitative","scale":{"domain":[1,46]},"axis":null},"y":{"datum":15,"type":"quantitative","scale":{"domain":[0,15],"nice":false},"axis":{"values":[15],"title":null}}}},
 {"data":{"values":[{}]},"mark":{"type":"rule","color":"#bdbdbd","strokeWidth":1},"encoding":{"x":{"datum":46.61,"type":"quantitative","scale":{"domain":[1,46]},"axis":null},"x2":{"datum":47.34},"y":{"datum":15,"type":"quantitative","scale":{"domain":[0,15],"nice":false},"axis":{"values":[15],"title":null}},"y2":{"datum":9.78}}},
 {"data":{"values":[{}]},"mark":{"type":"rule","color":"#bdbdbd","strokeWidth":1},"encoding":{"x":{"datum":47.34,"type":"quantitative","scale":{"domain":[1,46]},"axis":null},"y":{"datum":9.78,"type":"quantitative","scale":{"domain":[0,15],"nice":false},"axis":{"values":[15],"title":null}},"y2":{"datum":-103.4}}},
 {"data":{"values":[{}]},"mark":{"type":"rule","color":"#bdbdbd","strokeWidth":1},"encoding":{"x":{"datum":47.34,"type":"quantitative","scale":{"domain":[1,46]},"axis":null},"x2":{"datum":46.61},"y":{"datum":-103.4,"type":"quantitative","scale":{"domain":[0,15],"nice":false},"axis":{"values":[15],"title":null}},"y2":{"datum":-109.2}}}]},
{"width":370,"height":23,"transform":[{"filter":"datum.t==='Araucariacites'"}],"layer":[
 {"mark":{"type":"area","color":"#1A9ED9"},"encoding":{"x":{"field":"s","type":"quantitative","scale":{"domain":[1,46]},"axis":null},"y":{"field":"v","type":"quantitative","scale":{"domain":[0,15],"nice":false},"axis":{"values":[15],"title":null}}}},
 {"data":{"values":[{"n":"Araucariacites"}]},"mark":{"type":"text","style":"ttl","dy":8},"encoding":{"text":{"field":"n"},"x":{"datum":27.5,"type":"quantitative","scale":{"domain":[1,46]},"axis":null},"y":{"datum":15,"type":"quantitative","scale":{"domain":[0,15],"nice":false},"axis":{"values":[15],"title":null}}}}]},
{"width":370,"height":44,"transform":[{"filter":"datum.t==='Podocarpidites'"}],"layer":[
 {"mark":{"type":"area","color":"#1A9ED9"},"encoding":{"x":{"field":"s","type":"quantitative","scale":{"domain":[1,46]},"axis":null},"y":{"field":"v","type":"quantitative","scale":{"domain":[0,30],"nice":false},"axis":{"values":[30],"title":null}}}},
 {"data":{"values":[{"n":"Podocarpidites"}]},"mark":{"type":"text","style":"ttl","dy":13.3},"encoding":{"text":{"field":"n"},"x":{"datum":27.5,"type":"quantitative","scale":{"domain":[1,46]},"axis":null},"y":{"datum":30,"type":"quantitative","scale":{"domain":[0,30],"nice":false},"axis":{"values":[30],"title":null}}}},
 {"data":{"values":[{"g":"Coniferophyta"}]},"mark":{"type":"text","style":"grp","fontSize":21.5,"dy":12.3},"encoding":{"text":{"field":"g"},"x":{"datum":48.5,"type":"quantitative","scale":{"domain":[1,46]},"axis":null},"y":{"datum":30,"type":"quantitative","scale":{"domain":[0,30],"nice":false},"axis":{"values":[30],"title":null}}}}]},
{"width":370,"height":53,"transform":[{"filter":"datum.t==='Callialasporites'"}],"layer":[
 {"data":{"values":[{"n":"Callialasporites"}]},"mark":{"type":"text","style":"ttl","dy":11.7},"encoding":{"text":{"field":"n"},"x":{"datum":27.5,"type":"quantitative","scale":{"domain":[1,46]},"axis":null},"y":{"datum":35,"type":"quantitative","scale":{"domain":[0,35],"nice":false},"axis":{"values":[35],"title":null}}}},
 {"mark":{"type":"area","color":"#1A9ED9"},"encoding":{"x":{"field":"s","type":"quantitative","scale":{"domain":[1,46]},"axis":null},"y":{"field":"v","type":"quantitative","scale":{"domain":[0,35],"nice":false},"axis":{"values":[35],"title":null}}}}]}
]},
{"width":370,"height":216.5,"view":{"stroke":null},"data":{"values":[{}]},"mark":"text","encoding":{"text":{"value":""}}},
{"spacing": 15.3, "bounds": "flush", "vconcat": [
{"width":370,"height":23,"transform":[{"filter":"datum.t==='Zebrasporites'"}],"layer":[
 {"mark":{"type":"area","color":"#F18A21"},"encoding":{"x":{"field":"s","type":"quantitative","scale":{"domain":[1,46]},"axis":null},"y":{"field":"v","type":"quantitative","scale":{"domain":[0,15],"nice":false},"axis":{"values":[15],"title":null}}}},
 {"data":{"values":[{"n":"Zebrasporites"}]},"mark":{"type":"text","style":"ttl","dy":11},"encoding":{"text":{"field":"n"},"x":{"datum":27.5,"type":"quantitative","scale":{"domain":[1,46]},"axis":null},"y":{"datum":15,"type":"quantitative","scale":{"domain":[0,15],"nice":false},"axis":{"values":[15],"title":null}}}},
 {"data":{"values":[{}]},"mark":{"type":"rule","color":"#bdbdbd","strokeWidth":1},"encoding":{"x":{"datum":46.61,"type":"quantitative","scale":{"domain":[1,46]},"axis":null},"x2":{"datum":47.34},"y":{"datum":15,"type":"quantitative","scale":{"domain":[0,15],"nice":false},"axis":{"values":[15],"title":null}},"y2":{"datum":9.78}}},
 {"data":{"values":[{}]},"mark":{"type":"rule","color":"#bdbdbd","strokeWidth":1},"encoding":{"x":{"datum":47.34,"type":"quantitative","scale":{"domain":[1,46]},"axis":null},"y":{"datum":9.78,"type":"quantitative","scale":{"domain":[0,15],"nice":false},"axis":{"values":[15],"title":null}},"y2":{"datum":-280.4}}},
 {"data":{"values":[{}]},"mark":{"type":"rule","color":"#bdbdbd","strokeWidth":1},"encoding":{"x":{"datum":47.34,"type":"quantitative","scale":{"domain":[1,46]},"axis":null},"x2":{"datum":46.61},"y":{"datum":-280.4,"type":"quantitative","scale":{"domain":[0,15],"nice":false},"axis":{"values":[15],"title":null}},"y2":{"datum":-286.3}}}]},
{"width":370,"height":23,"transform":[{"filter":"datum.t==='Neoraistrickia'"}],"layer":[
 {"mark":{"type":"area","color":"#F18A21"},"encoding":{"x":{"field":"s","type":"quantitative","scale":{"domain":[1,46]},"axis":null},"y":{"field":"v","type":"quantitative","scale":{"domain":[0,15],"nice":false},"axis":{"values":[15],"title":null}}}},
 {"data":{"values":[{"n":"Neoraistrickia"}]},"mark":{"type":"text","style":"ttl","dy":11.7},"encoding":{"text":{"field":"n"},"x":{"datum":27.5,"type":"quantitative","scale":{"domain":[1,46]},"axis":null},"y":{"datum":15,"type":"quantitative","scale":{"domain":[0,15],"nice":false},"axis":{"values":[15],"title":null}}}}]},
{"width":370,"height":24,"transform":[{"filter":"datum.t==='Densoisporites'"}],"layer":[
 {"mark":{"type":"area","color":"#F18A21"},"encoding":{"x":{"field":"s","type":"quantitative","scale":{"domain":[1,46]},"axis":null},"y":{"field":"v","type":"quantitative","scale":{"domain":[0,15],"nice":false},"axis":{"values":[15],"title":null}}}},
 {"data":{"values":[{"n":"Densoisporites"}]},"mark":{"type":"text","style":"ttl","dy":9.7},"encoding":{"text":{"field":"n"},"x":{"datum":27.5,"type":"quantitative","scale":{"domain":[1,46]},"axis":null},"y":{"datum":15,"type":"quantitative","scale":{"domain":[0,15],"nice":false},"axis":{"values":[15],"title":null}}}}]},
{"width":370,"height":24,"transform":[{"filter":"datum.t==='Camarozonosporites'"}],"layer":[
 {"data":{"values":[{"n":"Camarozonosporites"}]},"mark":{"type":"text","style":"ttl","dy":10},"encoding":{"text":{"field":"n"},"x":{"datum":27.5,"type":"quantitative","scale":{"domain":[1,46]},"axis":null},"y":{"datum":15,"type":"quantitative","scale":{"domain":[0,15],"nice":false},"axis":{"values":[15],"title":null}}}},
 {"mark":{"type":"area","color":"#F18A21"},"encoding":{"x":{"field":"s","type":"quantitative","scale":{"domain":[1,46]},"axis":null},"y":{"field":"v","type":"quantitative","scale":{"domain":[0,15],"nice":false},"axis":{"values":[15],"title":null}}}}]},
{"width":370,"height":24,"transform":[{"filter":"datum.t==='Faveosporites'"}],"layer":[
 {"data":{"values":[{"n":"Faveosporites"}]},"mark":{"type":"text","style":"ttl","dy":7.3},"encoding":{"text":{"field":"n"},"x":{"datum":27.5,"type":"quantitative","scale":{"domain":[1,46]},"axis":null},"y":{"datum":15,"type":"quantitative","scale":{"domain":[0,15],"nice":false},"axis":{"values":[15],"title":null}}}},
 {"mark":{"type":"area","color":"#F18A21"},"encoding":{"x":{"field":"s","type":"quantitative","scale":{"domain":[1,46]},"axis":null},"y":{"field":"v","type":"quantitative","scale":{"domain":[0,15],"nice":false},"axis":{"values":[15],"title":null}}}},
 {"data":{"values":[{"g":"Lycophyta"}]},"mark":{"type":"text","style":"grp","fontSize":35,"dy":13.3},"encoding":{"text":{"field":"g"},"x":{"datum":48.5,"type":"quantitative","scale":{"domain":[1,46]},"axis":null},"y":{"datum":15,"type":"quantitative","scale":{"domain":[0,15],"nice":false},"axis":{"values":[15],"title":null}}}}]},
{"width":370,"height":31,"transform":[{"filter":"datum.t==='Lycopodiacidites'"}],"layer":[
 {"data":{"values":[{"n":"Lycopodiacidites"}]},"mark":{"type":"text","style":"ttl","dy":10.7},"encoding":{"text":{"field":"n"},"x":{"datum":27.5,"type":"quantitative","scale":{"domain":[1,46]},"axis":null},"y":{"datum":20,"type":"quantitative","scale":{"domain":[0,20],"nice":false},"axis":{"values":[20],"title":null}}}},
 {"mark":{"type":"area","color":"#F18A21"},"encoding":{"x":{"field":"s","type":"quantitative","scale":{"domain":[1,46]},"axis":null},"y":{"field":"v","type":"quantitative","scale":{"domain":[0,20],"nice":false},"axis":{"values":[20],"title":null}}}}]},
{"width":370,"height":52,"transform":[{"filter":"datum.t==='Limbosporites'"}],"layer":[
 {"mark":{"type":"area","color":"#F18A21"},"encoding":{"x":{"field":"s","type":"quantitative","scale":{"domain":[1,46]},"axis":null},"y":{"field":"v","type":"quantitative","scale":{"domain":[0,35],"nice":false},"axis":{"values":[35],"title":null}}}},
 {"data":{"values":[{"n":"Limbosporites"}]},"mark":{"type":"text","style":"ttl","dy":20},"encoding":{"text":{"field":"n"},"x":{"datum":27.5,"type":"quantitative","scale":{"domain":[1,46]},"axis":null},"y":{"datum":35,"type":"quantitative","scale":{"domain":[0,35],"nice":false},"axis":{"values":[35],"title":null}}}}]},
{"width":370,"height":153,"transform":[{"filter":"datum.t==='Retitriletes'"}],"layer":[
 {"mark":{"type":"area","color":"#F18A21"},"encoding":{"x":{"field":"s","type":"quantitative","scale":{"domain":[1,46]},"axis":{"values":[1,3,6,9,12,15,18,21,24,27,30,33,36,39,42,46],"labelExpr":"datum.value < 10 ? '0' + datum.value : '' + datum.value","labelFontWeight":"bold","labelFontSize":14,"labelPadding":3,"ticks":false,"labelFlush":false,"labelOverlap":false,"labelAlign":"center","labelColor":"#111","title":"Sample No.","titleFontSize":15,"titleFontWeight":"bold","titlePadding":3}},"y":{"field":"v","type":"quantitative","scale":{"domain":[0,100],"nice":false},"axis":{"values":[0,100],"labelExpr":"datum.value === 0 ? '%0' : datum.label","title":"Abundance","titleFontSize":20,"titleFontWeight":"bold","titleX":-12,"titleY":76.5,"titleAngle":-90,"titleBaseline":"middle","titleAlign":"center"}}}},
 {"data":{"values":[{"n":"Retitriletes"}]},"mark":{"type":"text","style":"ttl","dy":20.3},"encoding":{"text":{"field":"n"},"x":{"datum":27.5,"type":"quantitative","scale":{"domain":[1,46]},"axis":{"values":[1,3,6,9,12,15,18,21,24,27,30,33,36,39,42,46],"labelExpr":"datum.value < 10 ? '0' + datum.value : '' + datum.value","labelFontWeight":"bold","labelFontSize":14,"labelPadding":3,"ticks":false,"labelFlush":false,"labelOverlap":false,"labelAlign":"center","labelColor":"#111","title":"Sample No.","titleFontSize":15,"titleFontWeight":"bold","titlePadding":3}},"y":{"datum":100,"type":"quantitative","scale":{"domain":[0,100],"nice":false},"axis":{"values":[0,100],"labelExpr":"datum.value === 0 ? '%0' : datum.label","title":"Abundance","titleFontSize":20,"titleFontWeight":"bold","titleX":-12,"titleY":76.5,"titleAngle":-90,"titleBaseline":"middle","titleAlign":"center"}}}}]}
]}
]}
],
"config": {
 "view": {"stroke": "#a8a8a8", "strokeWidth": 1},
 "font": "Liberation Serif",
 "rule": {"color": "#bdbdbd", "strokeWidth": 1},
 "axis": {"labelFont": "Liberation Serif", "labelFontSize": 13, "labelColor": "#222", "tickColor": "#a8a8a8", "tickSize": 4, "domain": false, "grid": false, "titleFont": "Liberation Serif", "titleColor": "#111"},
 "axisY": {"labelAlign": "left", "labelPadding": 27, "labelBaseline": "middle"},
 "style": {
  "ttl": {"font": "Liberation Serif", "fontSize": 13, "fontWeight": "bold", "fontStyle": "italic", "align": "right", "baseline": "middle", "fill": "#1a1a1a"},
  "grp": {"font": "Liberation Serif", "fontWeight": "bold", "align": "left", "baseline": "middle", "fill": "#111"}
 }
}
}
